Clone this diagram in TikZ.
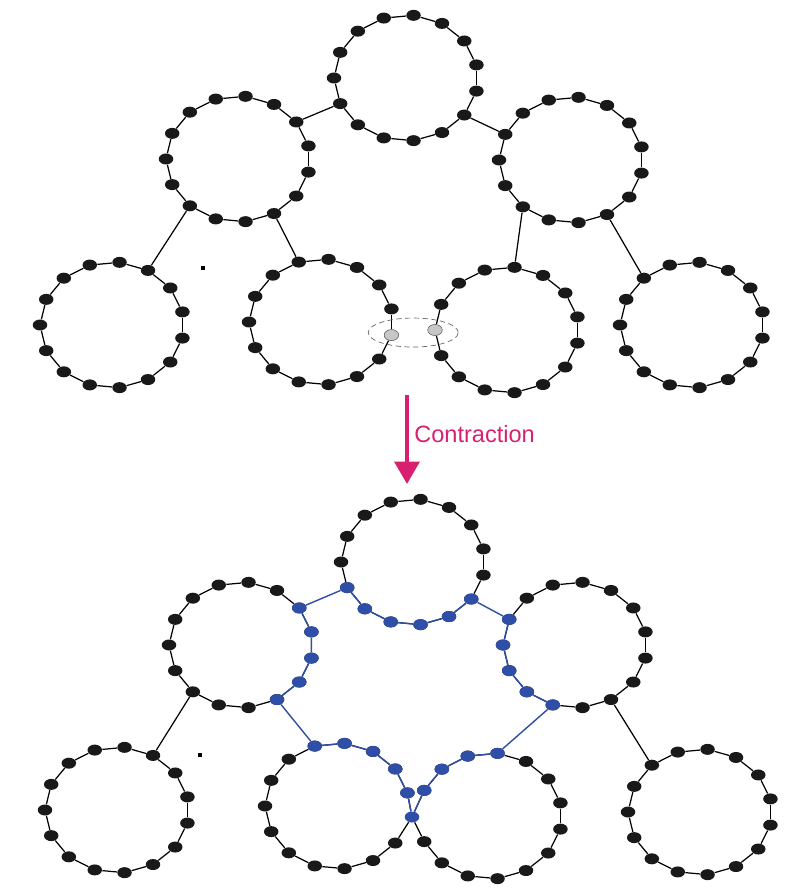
\documentclass[tikz,border=0pt]{standalone}
\usepackage{fontspec}
\setsansfont{Liberation Sans}
\usepackage{tikz}
\usetikzlibrary{
	arrows.meta,
	calc,
	shapes.geometric
}
\definecolor{ChainBlue}{RGB}{46,78,168}
\definecolor{ArrowPink}{RGB}{216,32,112}

\tikzset{
	bead/.style={ellipse, fill=black!90, inner sep=0pt, minimum width=0.29cm, minimum height=0.22cm},
	bluebead/.style={bead, fill=ChainBlue},
	graybead/.style={bead, fill=black!22, draw=black!60, line width=0.3pt},
	link/.style={line width=0.7pt},
	bluelink/.style={line width=0.8pt, ChainBlue}
}

% ring of 15 beads: name, centre x, centre y, bead left out
\newcommand{\ring}[4]{%
	\foreach \k in {0,...,14}{
		\ifnum\k=#4\relax\else
		\node[bead] (#1-\k) at ({#2+72*cos(12+24*\k)},{#3-63*sin(12+24*\k)}) {};
		\fi
	}
	\foreach \k [remember=\k as \p (initially 14)] in {0,...,14}
	\draw[link] (#1-\p) -- (#1-\k);
}

\begin{document}
\begin{tikzpicture}[x=0.02cm, y=-0.02cm]
		\useasboundingbox (0,0) rectangle (796,891);
		% before
		\ring{T}{406}{78}{-1}
		\ring{UL}{238}{159}{-1}
		\ring{UR}{571}{160}{-1}
		\ring{LL}{112}{325}{-1}
		\ring{LM}{321}{322}{-1}
		\ring{RM}{507}{330}{-1}
		\ring{RR}{692}{325}{-1}
		\draw[link] (T-8) -- (UL-1); \draw[link] (T-13) -- (UR-6);
		\draw[link] (UL-9) -- (LL-2); \draw[link] (UL-12) -- (LM-4);
		\draw[link] (UR-9) -- (RM-3); \draw[link] (UR-12) -- (RR-5);
		\foreach \r/\k in {LM/14, RM/7}
		\node[graybead] (\r-\k) at (\r-\k) {};
		\node[ellipse, draw=black!60, densely dashed, line width=0.4pt, minimum width=1.8cm, minimum height=0.58cm] (pair) at ($(LM-14)!0.5!(RM-7)$) {};
		\fill (201,266) rectangle (205,270);
		% contraction arrow
		\coordinate (from) at (407,395);
		\coordinate (to) at (407,484);
		\draw[ArrowPink, line width=2.2pt, -{Triangle[width=0.5cm, length=0.45cm]}] (from) -- (to);
		\node[ArrowPink, anchor=base west, inner sep=0pt, font=\sffamily\fontsize{13.4}{16}\selectfont] (label) at (414,442) {Contraction};
		% after
		\node[bluebead, alias=LMb-14, alias=RMb-7] (mid) at (412,817) {};
		\ring{Tb}{413}{562}{-1}
		\ring{ULb}{241}{645}{-1}
		\ring{URb}{575}{645}{-1}
		\ring{LLb}{117}{810}{-1}
		\ring{LMb}{337}{806}{14}
		\ring{RMb}{490}{816}{7}
		\ring{RRb}{700}{812}{-1}
		\draw[link] (ULb-9) -- (LLb-2); \draw[link] (URb-12) -- (RRb-5);
		\foreach \r/\k in {Tb/8, Tb/9, Tb/10, Tb/11, Tb/12, Tb/13, URb/6, URb/7, URb/8, URb/9, URb/10,
			RMb/3, RMb/4, RMb/5, RMb/6, LMb/0, LMb/1, LMb/2, LMb/3, LMb/4, ULb/12, ULb/13, ULb/14, ULb/0, ULb/1}
		\node[bluebead] (\r-\k) at (\r-\k) {};
		\draw[bluelink] (ULb-1) -- (Tb-8) -- (Tb-9) -- (Tb-10) -- (Tb-11) -- (Tb-12) -- (Tb-13)
			-- (URb-6) -- (URb-7) -- (URb-8) -- (URb-9) -- (URb-10) -- (RMb-3) -- (RMb-4) -- (RMb-5) -- (RMb-6)
			-- (mid) -- (LMb-0) -- (LMb-1) -- (LMb-2) -- (LMb-3) -- (LMb-4)
			-- (ULb-12) -- (ULb-13) -- (ULb-14) -- (ULb-0) -- (ULb-1);
		\fill (198,753) rectangle (202,757);
	\end{tikzpicture}
\end{document}
